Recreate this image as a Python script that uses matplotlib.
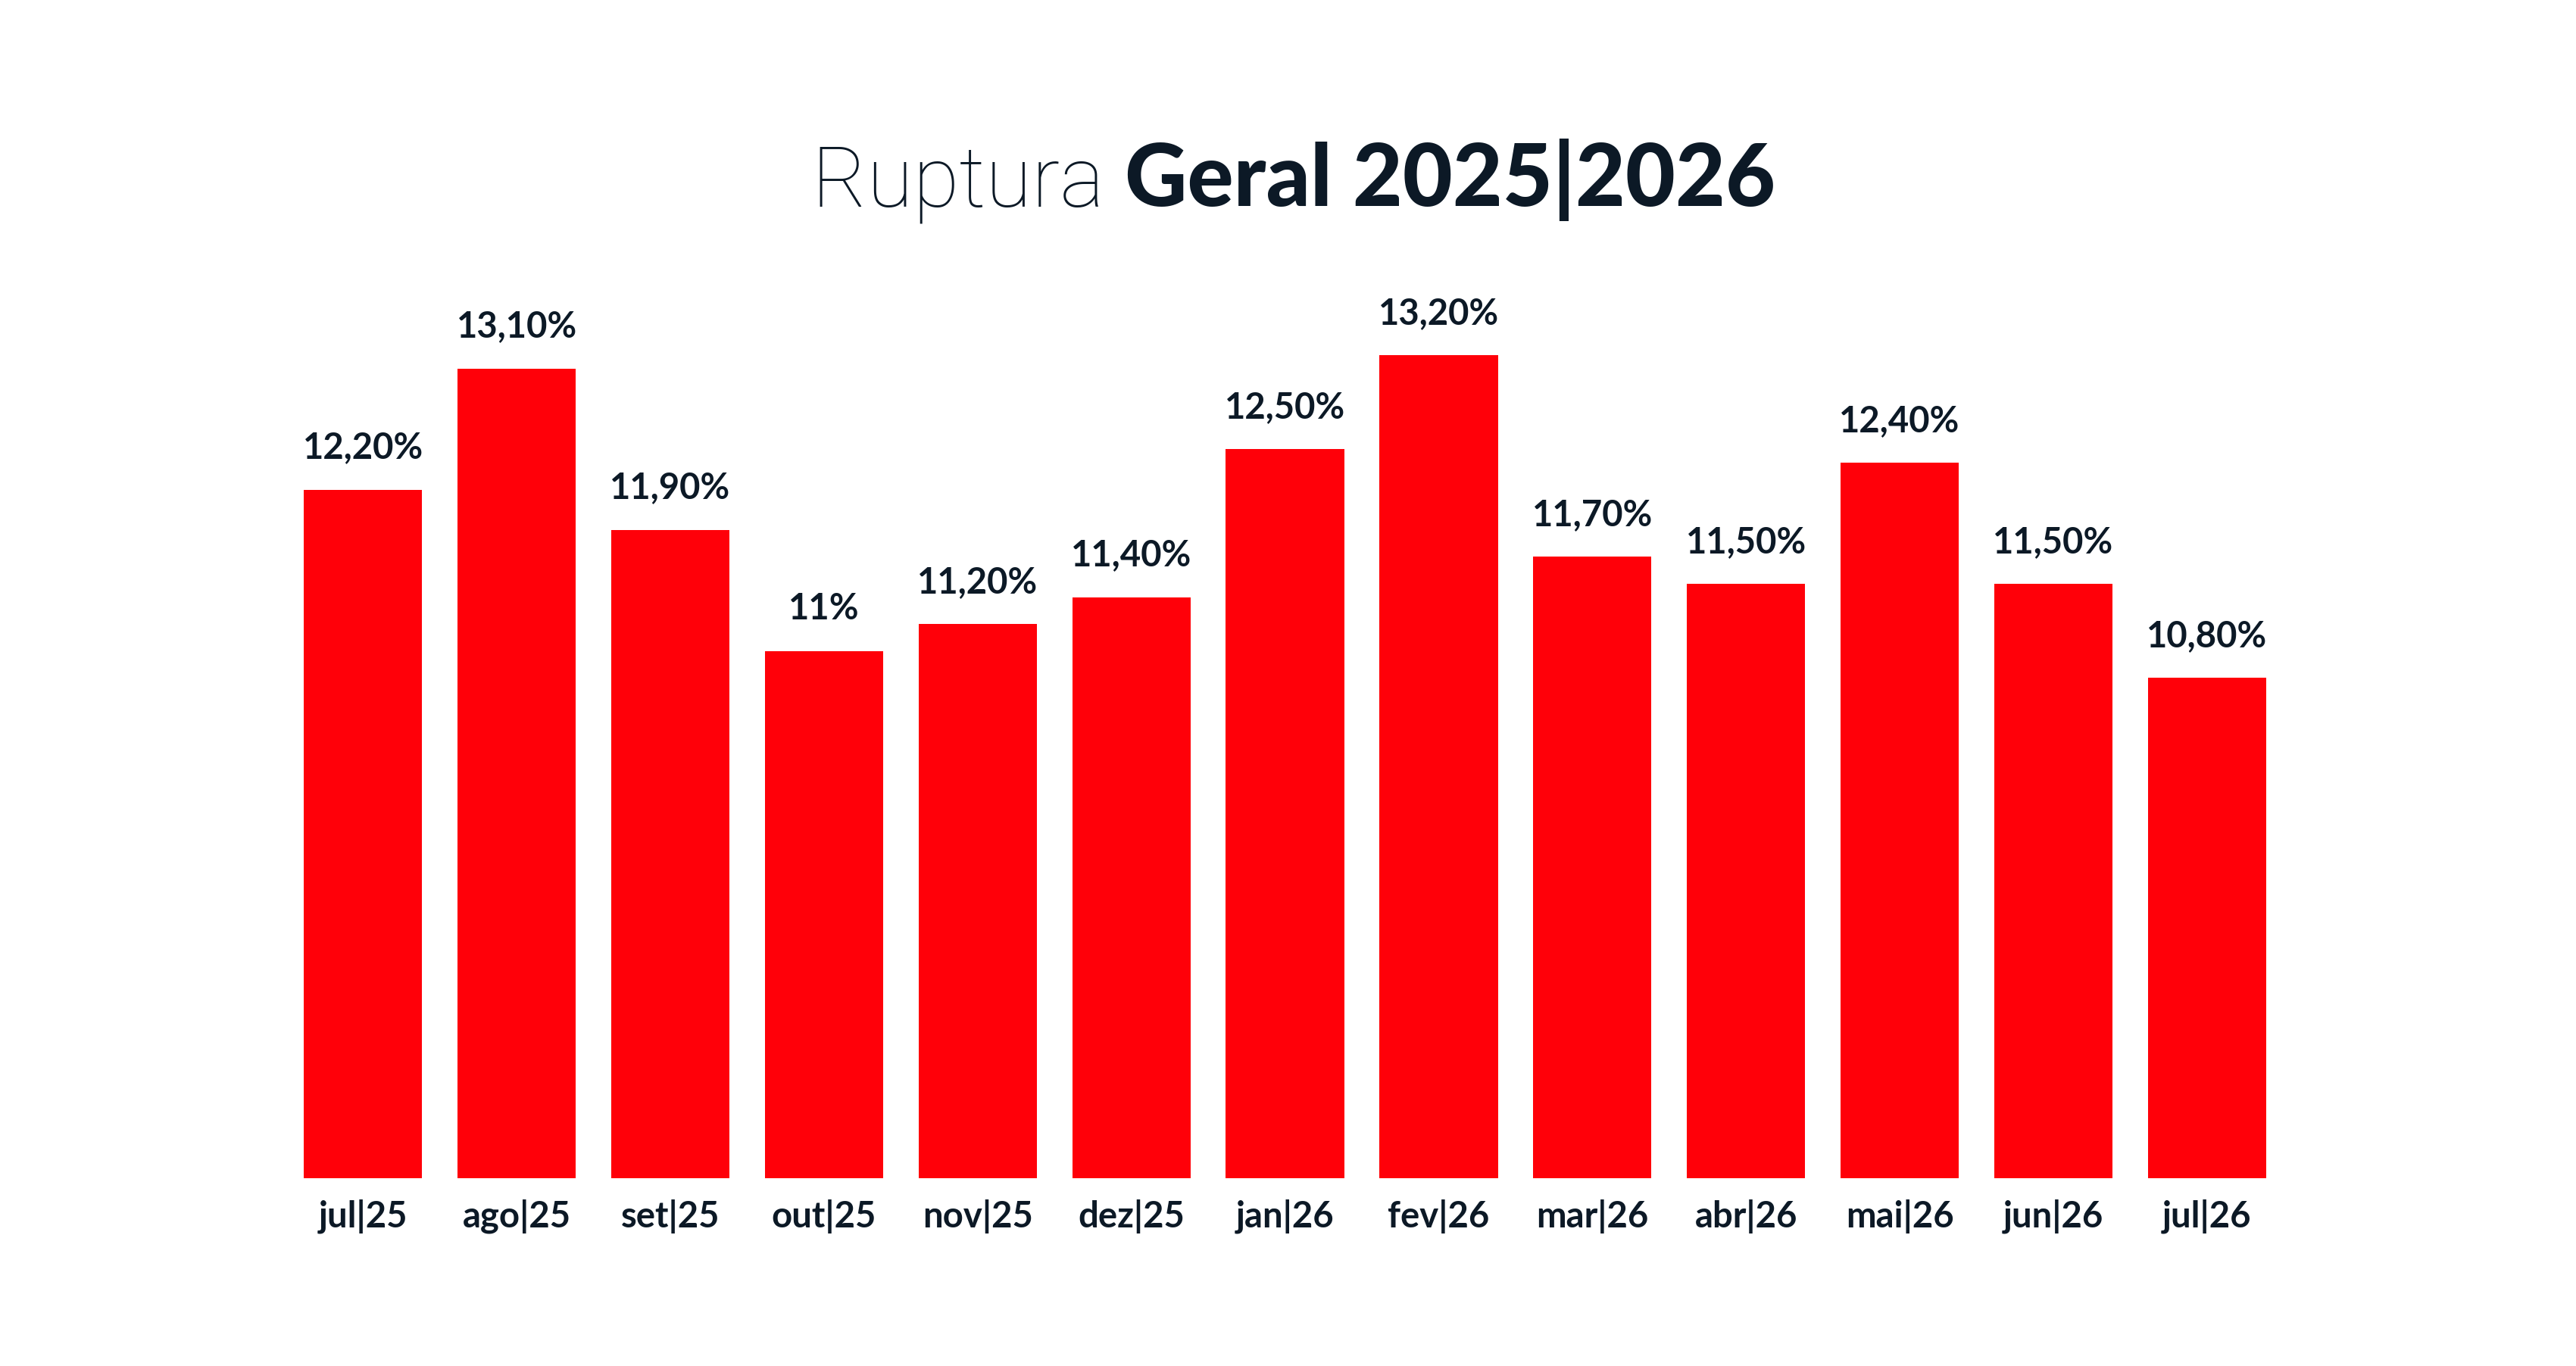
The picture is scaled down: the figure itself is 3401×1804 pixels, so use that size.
import matplotlib
matplotlib.use("Agg")
import matplotlib.pyplot as plt
import numpy as np

meses = ["jul|25", "ago|25", "set|25", "out|25", "nov|25", "dez|25", "jan|26",
         "fev|26", "mar|26", "abr|26", "mai|26", "jun|26", "jul|26"]
ruptura = [12.2, 13.1, 11.9, 11.0, 11.2, 11.4, 12.5, 13.2, 11.7, 11.5, 12.4, 11.5, 10.8]
rotulos = ["12,20%", "13,10%", "11,90%", "11%", "11,20%", "11,40%", "12,50%",
           "13,20%", "11,70%", "11,50%", "12,40%", "11,50%", "10,80%"]

VERMELHO = "#ff0009"
ESCURO = "#0c1926"

plt.rcParams['font.family'] = ['Lato', 'DejaVu Sans']

fig = plt.figure(figsize=(17.005, 9.02), dpi=200)
ax = fig.add_axes([0.1111, 0.1375, 0.7755, 0.6025])

x = np.arange(len(meses))
ax.bar(x, ruptura, width=0.77, color=VERMELHO)
ax.set_xlim(-0.5, len(meses) - 0.5)
ax.set_ylim(7.08, 13.2)

for xi, v, r in zip(x, ruptura, rotulos):
    ax.annotate(r, (xi, v), xytext=(0, 12), textcoords="offset points",
                ha="center", va="bottom", fontsize=17, fontweight="bold",
                color=ESCURO, annotation_clip=False)

ax.set_xticks(x)
ax.set_xticklabels(meses, fontsize=17, fontweight="bold", color=ESCURO)
ax.tick_params(axis="x", length=0, pad=10)
ax.set_yticks([])
for s in ax.spines.values():
    s.set_visible(False)

# titulo em duas partes: leve + pesado, centrado no conjunto
t1 = fig.text(0, 0.849, "Ruptura ", fontsize=40, fontweight="light",
              family=["Roboto", "DejaVu Sans"], color=ESCURO, ha="left", va="baseline")
t2 = fig.text(0, 0.849, "Geral 2025|2026", fontsize=41, fontweight="black",
              color=ESCURO, ha="left", va="baseline")
fig.canvas.draw()
w1 = t1.get_window_extent().width / fig.bbox.width
w2 = t2.get_window_extent().width / fig.bbox.width
x0 = 0.5022 - (w1 + w2) / 2
t1.set_x(x0)
t2.set_x(x0 + w1)

fig.savefig("out.png", dpi=200, facecolor="white")
